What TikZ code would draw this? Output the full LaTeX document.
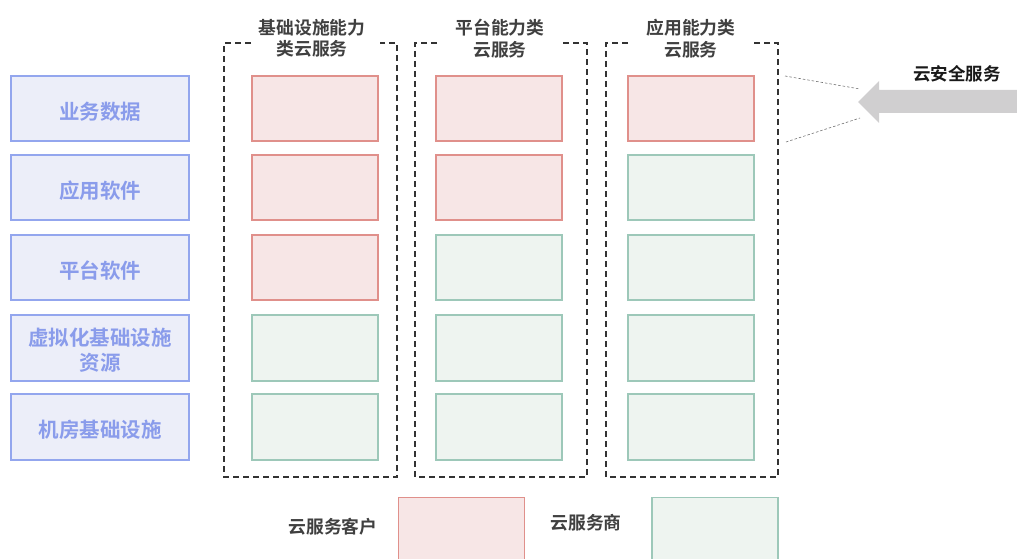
\documentclass[tikz,border=0pt]{standalone}
\usepackage{fontspec}
\newfontfamily\cjk{Noto Sans CJK SC}[BoldFont={* Bold}]
\definecolor{lfill}{HTML}{ECEEF9}
\definecolor{lline}{HTML}{93A6EE}
\definecolor{ltext}{HTML}{8A9CEB}
\definecolor{rfill}{HTML}{F7E6E6}
\definecolor{rline}{HTML}{E0908B}
\definecolor{gfill}{HTML}{EEF4F0}
\definecolor{gline}{HTML}{9DC8B9}
\definecolor{ttext}{HTML}{404040}
\definecolor{arrowgray}{HTML}{D0CFD0}
\newcommand{\lowered}[2][3pt]{\raisebox{-#1}[\height][\depth]{#2}}
\tikzset{
  layerbox/.style={draw=lline, line width=1.3pt, fill=lfill, minimum width=178pt, minimum height=65pt, inner sep=0pt, align=center, text=ltext, font=\cjk\bfseries\fontsize{20.5}{25}\selectfont},
  custbox/.style={draw=rline, line width=1.3pt, fill=rfill, minimum width=126pt, minimum height=65pt, inner sep=0pt},
  provbox/.style={draw=gline, line width=1.3pt, fill=gfill, minimum width=126pt, minimum height=65pt, inner sep=0pt},
  frame/.style={draw=black!80, line width=1.1pt, dash pattern=on 6pt off 4pt},
  title/.style={text=ttext, align=center, inner sep=0pt, font=\cjk\bfseries\fontsize{17.8}{21.5}\selectfont},
  guide/.style={draw=black!55, line width=0.6pt, dash pattern=on 2.5pt off 2pt},
  legendtext/.style={inner sep=0pt, text=ttext, font=\cjk\bfseries\fontsize{17.8}{20}\selectfont},
}
\begin{document}
\begin{tikzpicture}[x=1pt,y=-1pt]
\useasboundingbox (0,0) rectangle (1017,559);
% left layer boxes
\node[layerbox] (l1) at (100,108.5) {\lowered{业务数据}};
\node[layerbox] (l2) at (100,187.5) {\lowered{应用软件}};
\node[layerbox] (l3) at (100,267.5) {\lowered{平台软件}};
\node[layerbox, minimum height=66pt] (l4) at (100,348) {\lowered[4.5pt]{\begin{tabular}{@{}c@{}}虚拟化基础设施\\资源\end{tabular}}};
\node[layerbox, minimum height=66pt] (l5) at (100,427) {\lowered{机房基础设施}};
% frames
\draw[frame] (251,43) -- (224,43) -- (224,477) -- (397,477) -- (397,43) -- (380,43);
\draw[frame] (437,43) -- (415,43) -- (415,477) -- (587,477) -- (587,43) -- (563,43);
\draw[frame] (628,43) -- (606,43) -- (606,477) -- (778,477) -- (778,43) -- (754,43);
\node[title] (t1) at (312,38.5) {基础设施能力\\类云服务};
\node[title] (t2) at (500,38.5) {平台能力类\\云服务};
\node[title] (t3) at (691,38.5) {应用能力类\\云服务};
% column 1
\node[custbox] (a1) at (315,108.5) {};
\node[custbox] (a2) at (315,187.5) {};
\node[custbox] (a3) at (315,267.5) {};
\node[provbox, minimum height=66pt] (a4) at (315,348) {};
\node[provbox, minimum height=66pt] (a5) at (315,427) {};
% column 2
\node[custbox] (b1) at (499,108.5) {};
\node[custbox] (b2) at (499,187.5) {};
\node[provbox] (b3) at (499,267.5) {};
\node[provbox, minimum height=66pt] (b4) at (499,348) {};
\node[provbox, minimum height=66pt] (b5) at (499,427) {};
% column 3
\node[custbox] (c1) at (691,108.5) {};
\node[provbox] (c2) at (691,187.5) {};
\node[provbox] (c3) at (691,267.5) {};
\node[provbox, minimum height=66pt] (c4) at (691,348) {};
\node[provbox, minimum height=66pt] (c5) at (691,427) {};
% security arrow
\fill[arrowgray] (1017,90) -- (879,90) -- (879,81) -- (858,102) -- (879,123) -- (879,113) -- (1017,113) -- cycle;
\coordinate (tipA) at (860,89);
\coordinate (tipB) at (860,118);
\coordinate (fA) at (785,76);
\coordinate (fB) at (786,142);
\draw[guide] (fA) -- (tipA);
\draw[guide] (fB) -- (tipB);
\node[inner sep=0pt, text=black!90, font=\cjk\bfseries\fontsize{17.5}{20}\selectfont] (sec) at (957,74) {云安全服务};
% legend
\node[legendtext] (lg1) at (333,527) {云服务客户};
\node[custbox, minimum height=70pt, anchor=north] (lr) at (461.5,497) {};
\node[legendtext] (lg2) at (586,523) {云服务商};
\node[provbox, minimum height=70pt, anchor=north] (lp) at (715,497) {};
\end{tikzpicture}
\end{document}
